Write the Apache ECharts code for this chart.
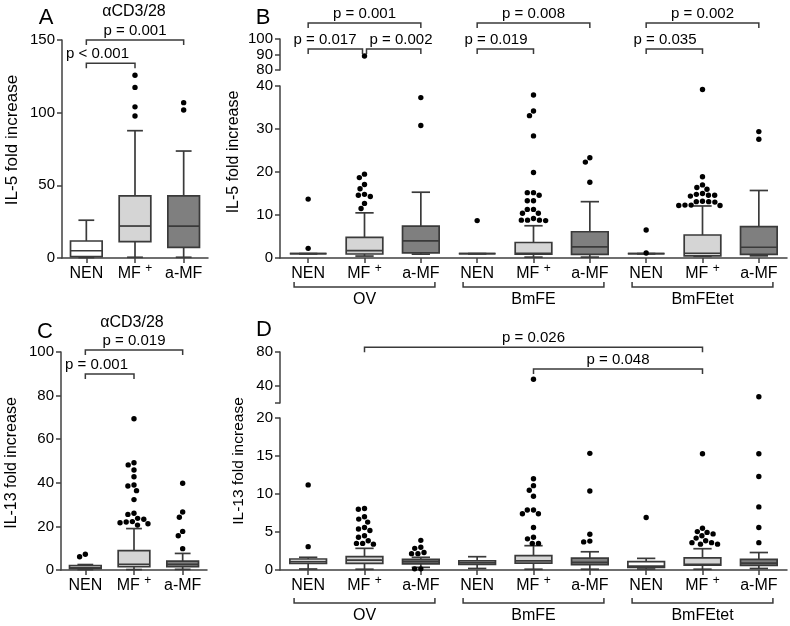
<!DOCTYPE html>
<html><head><meta charset="utf-8">
<script src="https://cdn.jsdelivr.net/npm/echarts@6/dist/echarts.min.js"></script>
<style>html,body{margin:0;padding:0;background:#fff}#c{width:790px;height:626px}</style>
</head><body><div id="c"></div>
<script>
// ---------------- DATA ----------------
const cats3 = ['NEN', 'MF+', 'a-MF'];
const stimuli = ['OV', 'BmFE', 'BmFEtet'];
const cats9 = stimuli.flatMap(() => cats3);

// Panel A: IL-5 fold increase, aCD3/28 -- [min, Q1, median, Q3, max]
const aBoxes = [[0.3, 1, 5, 11.7, 26], [0.5, 11.2, 22, 42.7, 87.6], [0.5, 7.3, 22, 42.7, 73.6]];
const aOutliers = [[], [125.7, 117.4, 104, 97.7], [106.9, 101.8]];
const aBrackets = [[0, 1, 134, 'p < 0.001'], [0, 2, 150, 'p = 0.001']];

// Panel B: IL-5 fold increase, antigens
const bBoxes = [
  [1, 1, 1, 1, 1], [0.45, 0.93, 1.7, 4.8, 10.5], [0.9, 1.2, 4.0, 7.4, 15.3],
  [1, 1, 1, 1, 1], [0.2, 0.9, 1.1, 3.6, 7.5], [0.2, 0.85, 2.6, 6.1, 13.1],
  [1, 1, 1, 1, 1], [0.4, 0.5, 1.1, 5.35, 12.1], [0.5, 0.85, 2.5, 7.3, 15.7]
];
const bOutliers = [
  [13.7, 2.25],
  [89, 19.5, 18.7, 17.1, 16.1, 14.8, 14.6, 14.3, 12.7, 11.5],
  [37.3, 30.8],
  [8.7],
  [37.9, 34.2, 33.1, 28.4, 19.9, 15.2, 15.2, 14.6, 13.3, 13.3, 11.3, 11.3, 10.4, 10.4, 9.2, 8.8, 8.8, 8.8, 8.7],
  [23.3, 22.3, 17.6],
  [6.5, 1.15],
  [39.2, 18.9, 17.0, 16.4, 16.0, 15.0, 14.8, 14.6, 14.6, 14.4, 13.2, 13.1, 13.1, 13.0, 12.3, 12.3, 12.2, 12.2],
  [29.4, 27.6]
];
const bBrackets = [
  [0, 1, 93.5, 'p = 0.017'], [1, 2, 93.5, 'p = 0.002'], [0, 2, 110.3, 'p = 0.001'],
  [3, 4, 93.5, 'p = 0.019'], [3, 5, 110.3, 'p = 0.008'],
  [6, 7, 93.5, 'p = 0.035'], [6, 8, 110.3, 'p = 0.002']
];

// Panel C: IL-13 fold increase, aCD3/28
const cBoxes = [[0.2, 0.6, 1.0, 2.0, 2.5], [0.2, 1.5, 2.6, 8.9, 19.0], [0.3, 1.5, 2.6, 4.1, 7.6]];
const cOutliers = [
  [6.1, 7.2],
  [69.4, 49.2, 48.2, 45.9, 42.8, 39.0, 38.5, 36.4, 32.3, 26.0, 25.5, 23.7, 23.3, 22.2, 22.0, 21.7, 21.2, 20.6],
  [39.8, 26.6, 24.2, 17.7, 15.7, 9.8]
];
const cBrackets = [[0, 1, 89.9, 'p = 0.001'], [0, 2, 100.9, 'p = 0.019']];

// Panel D: IL-13 fold increase, antigens
const dBoxes = [
  [0.13, 0.88, 1.1, 1.45, 1.67], [0.1, 0.88, 1.3, 1.75, 2.85], [0.35, 0.8, 1.1, 1.4, 1.67],
  [0.2, 0.75, 0.95, 1.2, 1.75], [0.1, 0.9, 1.2, 1.9, 3.2], [0.1, 0.7, 1.0, 1.55, 2.4],
  [0.13, 0.35, 0.5, 1.1, 1.53], [0.1, 0.65, 0.75, 1.6, 2.8], [0.2, 0.6, 0.9, 1.4, 2.3]
];
const dOutliers = [
  [11.2, 3.07],
  [8.1, 8.0, 7.0, 6.7, 6.3, 5.6, 5.4, 5.2, 4.5, 4.3, 3.85, 3.5, 3.5, 3.4],
  [3.9, 3.0, 2.85, 2.3, 2.15, 2.15, 0.15, 0.15],
  [],
  [48, 12.0, 11.1, 10.5, 9.7, 7.9, 7.9, 7.4, 7.4, 5.6, 4.3, 4.1, 3.5, 3.5],
  [15.35, 10.4, 4.7, 3.8, 3.7],
  [6.9],
  [15.3, 5.5, 5.05, 4.95, 4.75, 4.5, 4.2, 3.85, 3.6, 3.6, 3.4, 3.4],
  [27.4, 15.3, 12.3, 8.3, 5.6, 3.6]
];
const dBrackets = [[1, 7, 85.5, 'p = 0.026'], [4, 7, 60, 'p = 0.048']];

// axis ranges / ticks
const aAxis = { min: 0, max: 150, interval: 50 };
const bLowAxis = { min: 0, max: 40, interval: 10 };
const bHighAxis = { min: 80, max: 100, interval: 10 };
const cAxis = { min: 0, max: 100, interval: 20 };
const dLowAxis = { min: 0, max: 20, interval: 5 };
const dHighAxis = { min: 20, max: 80 };
const dHighTicks = [20, 40, 80];
const dHighLabels = [40, 80];

// ---------------- STYLE ----------------
const FONT = 'Liberation Sans, Arial, sans-serif';
const LINE = '#3a3a3a';
const AXIS = '#404040';
const FILLS = ['#ffffff', '#d5d5d5', '#7f7f7f'];
const DOT_R = 2.7;
const DOT_D = 6.2;

// ---------------- HELPERS ----------------
function swarm(coords, cats) {
  const out = new Array(coords.length);
  const byCat = {};
  coords.forEach((c, i) => (byCat[cats[i]] = byCat[cats[i]] || []).push(i));
  Object.values(byCat).forEach(idxs => {
    idxs.sort((a, b) => coords[a][1] - coords[b][1]);
    const done = [];
    idxs.forEach(i => {
      const cy = coords[i][1];
      const cands = [0];
      done.forEach(([dx, dy]) => {
        const vy = cy - dy;
        if (Math.abs(vy) < DOT_D) {
          const h = Math.sqrt(DOT_D * DOT_D - vy * vy);
          cands.push(dx + h, dx - h);
        }
      });
      cands.sort((a, b) => Math.abs(a) - Math.abs(b) || a - b);
      const best = cands.find(x => done.every(([dx, dy]) => (x - dx) ** 2 + (cy - dy) ** 2 >= DOT_D * DOT_D - 0.01));
      done.push([best, cy]);
      out[i] = [coords[i][0] + best, cy];
    });
  });
  return out;
}

function outlierSeries(points, ai) {
  let placed = null;
  return {
    type: 'custom', xAxisIndex: ai, yAxisIndex: ai, clip: false, z: 6, silent: true,
    encode: { x: 0, y: 1 },
    data: points,
    renderItem(params, api) {
      if (!placed) placed = swarm(points.map(p => api.coord(p)), points.map(p => p[0]));
      const p = placed[params.dataIndex];
      return { type: 'circle', shape: { cx: p[0], cy: p[1], r: DOT_R }, style: { fill: '#000' } };
    }
  };
}

function boxSeries(boxes, ai) {
  return {
    type: 'custom', xAxisIndex: ai, yAxisIndex: ai, z: 4, silent: true,
    encode: { x: 0, y: [1, 2, 3, 4, 5] },
    data: boxes.map((b, i) => [i, ...b]),
    renderItem(params, api) {
      const i = api.value(0);
      const v = [1, 2, 3, 4, 5].map(k => api.coord([i, api.value(k)]));
      const cx = v[0][0];
      const slot = api.size([1, 0])[0];
      const bw = slot * 0.65, cw = bw * 0.5;
      const ln = { stroke: LINE, lineWidth: 1.7 };
      return {
        type: 'group', children: [
          { type: 'line', shape: { x1: cx, y1: v[0][1], x2: cx, y2: v[4][1] }, style: ln },
          { type: 'line', shape: { x1: cx - cw / 2, y1: v[0][1], x2: cx + cw / 2, y2: v[0][1] }, style: ln },
          { type: 'line', shape: { x1: cx - cw / 2, y1: v[4][1], x2: cx + cw / 2, y2: v[4][1] }, style: ln },
          { type: 'rect', shape: { x: cx - bw / 2, y: v[3][1], width: bw, height: v[1][1] - v[3][1] },
            style: { fill: FILLS[i % 3], stroke: LINE, lineWidth: 1.7 } },
          { type: 'line', shape: { x1: cx - bw / 2, y1: v[2][1], x2: cx + bw / 2, y2: v[2][1] }, style: ln }
        ]
      };
    }
  };
}

function bracketSeries(brackets, ai) {
  return {
    type: 'custom', xAxisIndex: ai, yAxisIndex: ai, clip: false, z: 5, silent: true,
    encode: { x: [0, 1], y: 2 },
    data: brackets.map(b => [b[0], b[1], b[2]]),
    renderItem(params, api) {
      const b = brackets[params.dataIndex];
      const p1 = api.coord([b[0], b[2]]), p2 = api.coord([b[1], b[2]]);
      let x1 = p1[0], x2 = p2[0];
      const leftJoined = brackets.some(o => o !== b && o[2] === b[2] && o[1] === b[0]);
      const rightJoined = brackets.some(o => o !== b && o[2] === b[2] && o[0] === b[1]);
      if (leftJoined) x1 += 2;
      if (rightJoined) x2 -= 2;
      let tx = (x1 + x2) / 2, align = 'center';
      if (b[1] - b[0] === 1) {
        if (leftJoined) { tx = x1 + 3; align = 'left'; }
        else { tx = x2 - 6; align = 'right'; }
      }
      const y = p1[1];
      return {
        type: 'group', children: [
          { type: 'polyline', shape: { points: [[x1, y + 5], [x1, y], [x2, y], [x2, y + 5]] },
            style: { stroke: LINE, lineWidth: 1.5, fill: null } },
          { type: 'text', x: tx, y: y - 9,
            style: { text: b[3], fill: '#000', font: '15px ' + FONT, align, verticalAlign: 'middle' } }
        ]
      };
    }
  };
}

function groupSeries(ai, yMin, drop) {
  return {
    type: 'custom', xAxisIndex: ai, yAxisIndex: ai, clip: false, z: 5, silent: true,
    encode: { x: [0, 1], y: 2 },
    data: stimuli.map((s, g) => [g * 3, g * 3 + 2, yMin]),
    renderItem(params, api) {
      const p1 = api.coord([api.value(0), yMin]), p2 = api.coord([api.value(1), yMin]);
      const ext = api.size([1, 0])[0] * 0.25;
      const x1 = p1[0] - ext, x2 = p2[0] + ext, y = p1[1] + drop;
      return {
        type: 'group', children: [
          { type: 'polyline', shape: { points: [[x1, y - 5], [x1, y], [x2, y], [x2, y - 5]] },
            style: { stroke: LINE, lineWidth: 1.5, fill: null } },
          { type: 'text', x: (x1 + x2) / 2, y: y + 13,
            style: { text: stimuli[params.dataIndex], fill: '#000', font: '16px ' + FONT, align: 'center', verticalAlign: 'middle' } }
        ]
      };
    }
  };
}

function pts(outliers, limitLow, wantHigh) {
  const res = [];
  outliers.forEach((arr, i) => arr.forEach(v => {
    if (limitLow == null || (wantHigh ? v > limitLow : v <= limitLow)) res.push([i, v]);
  }));
  return res;
}

const catLabel = {
  interval: 0, color: '#000', fontFamily: FONT, margin: 5,
  formatter: v => v === 'MF+' ? '{n|MF }{s|+}' : '{n|' + v + '}',
  rich: { n: { fontSize: 16, fontFamily: FONT, color: '#000', lineHeight: 21 },
          s: { fontSize: 12, fontFamily: FONT, color: '#000', lineHeight: 12, padding: [0, 0, 10, 0] } }
};
const axisLineStyle = { color: AXIS, width: 1.5 };
function xAx(gi, cats, show) {
  return {
    gridIndex: gi, type: 'category', data: cats, show,
    axisLine: { show: true, onZero: false, lineStyle: axisLineStyle },
    axisTick: { show: true, alignWithLabel: true, interval: 0, length: 5, lineStyle: axisLineStyle },
    axisLabel: catLabel, splitLine: { show: false }
  };
}
function yAx(gi, range, extra) {
  return Object.assign({
    gridIndex: gi, type: 'value', min: range.min, max: range.max, interval: range.interval,
    axisLine: { show: true, lineStyle: axisLineStyle },
    axisTick: { show: true, length: 5, lineStyle: axisLineStyle },
    axisLabel: { fontSize: 15, color: '#000', fontFamily: FONT, margin: 7 },
    splitLine: { show: false }
  }, extra || {});
}

const grids = [
  { left: 62, top: 40, width: 146, height: 218 },   // A
  { left: 280, top: 86, width: 507, height: 172 },  // B lower
  { left: 280, top: 39, width: 507, height: 31 },   // B upper
  { left: 61, top: 352, width: 146, height: 218 },  // C
  { left: 280, top: 418, width: 507, height: 152 }, // D lower
  { left: 280, top: 352, width: 507, height: 51 }   // D upper
];

const dHigh = yAx(5, dHighAxis);
dHigh.axisTick.customValues = dHighTicks;
dHigh.axisLabel.customValues = dHighLabels;

const textEl = (x, y, text, size, rot) => ({
  type: 'text', x, y, rotation: rot || 0, silent: true,
  style: { text, font: size + 'px ' + FONT, fill: '#000', align: 'center', verticalAlign: 'middle' }
});

const option = {
  animation: false,
  backgroundColor: '#fff',
  grid: grids.map(g => Object.assign({ containLabel: false }, g)),
  xAxis: [xAx(0, cats3, true), xAx(1, cats9, true), xAx(2, cats9, false),
          xAx(3, cats3, true), xAx(4, cats9, true), xAx(5, cats9, false)],
  yAxis: [yAx(0, aAxis), yAx(1, bLowAxis), yAx(2, bHighAxis), yAx(3, cAxis), yAx(4, dLowAxis), dHigh],
  series: [
    boxSeries(aBoxes, 0), outlierSeries(pts(aOutliers), 0), bracketSeries(aBrackets, 0),
    boxSeries(bBoxes, 1), outlierSeries(pts(bOutliers, bLowAxis.max, false), 1),
    outlierSeries(pts(bOutliers, bLowAxis.max, true), 2), bracketSeries(bBrackets, 2),
    groupSeries(1, bLowAxis.min, 29),
    boxSeries(cBoxes, 3), outlierSeries(pts(cOutliers), 3), bracketSeries(cBrackets, 3),
    boxSeries(dBoxes, 4), outlierSeries(pts(dOutliers, dLowAxis.max, false), 4),
    outlierSeries(pts(dOutliers, dLowAxis.max, true), 5), bracketSeries(dBrackets, 5),
    groupSeries(4, dLowAxis.min, 33)
  ],
  graphic: [
    textEl(46, 18, 'A', 22), textEl(263, 18, 'B', 22), textEl(45, 332, 'C', 22), textEl(264, 330, 'D', 22),
    textEl(134, 12, 'αCD3/28', 16), textEl(132, 323, 'αCD3/28', 16),
    textEl(12, 140, 'IL-5 fold increase', 17, Math.PI / 2),
    textEl(234, 152, 'IL-5 fold increase', 16, Math.PI / 2),
    textEl(12, 463, 'IL-13 fold increase', 16, Math.PI / 2),
    textEl(239, 461, 'IL-13 fold increase', 15.5, Math.PI / 2)
  ]
};

const chart = echarts.init(document.getElementById('c'), null, { renderer: 'canvas' });
chart.setOption(option);
</script>
</body></html>
